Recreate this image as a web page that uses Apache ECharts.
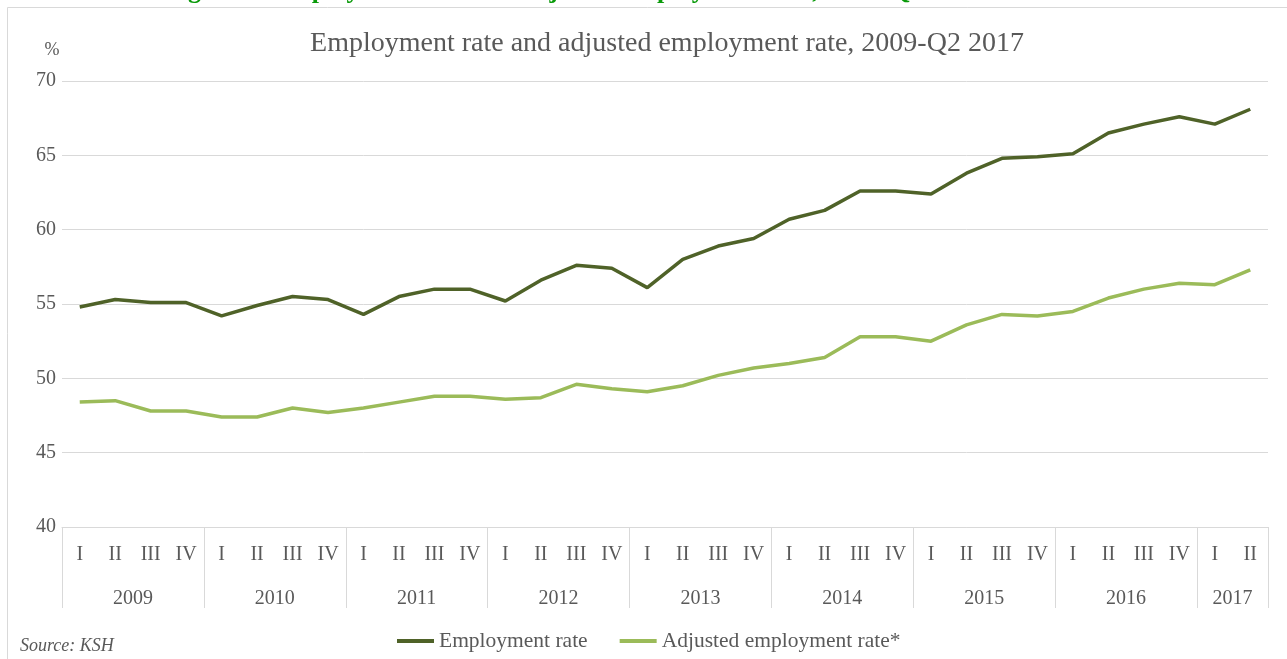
<!DOCTYPE html>
<html>
<head>
<meta charset="utf-8">
<title>Employment rate and adjusted employment rate, 2009-Q2 2017</title>
<script src="https://cdn.jsdelivr.net/npm/echarts@6/dist/echarts.min.js"></script>
<style>
  html, body { margin: 0; padding: 0; background: #ffffff; }
  #chart { width: 1287px; height: 659px; }
</style>
</head>
<body>
<div id="chart"></div>
<script>
// Years shown on the lower category row and how many quarters each one covers
const years = ['2009', '2010', '2011', '2012', '2013', '2014', '2015', '2016', '2017'];
const quartersPerYear = [4, 4, 4, 4, 4, 4, 4, 4, 2];
const quarterNames = ['I', 'II', 'III', 'IV'];

// Rates in percent, one value per quarter from 2009 Q1 to 2017 Q2
const employmentRate = [
  54.8, 55.3, 55.1, 55.1,
  54.2, 54.9, 55.5, 55.3,
  54.3, 55.5, 56.0, 56.0,
  55.2, 56.6, 57.6, 57.4,
  56.1, 58.0, 58.9, 59.4,
  60.7, 61.3, 62.6, 62.6,
  62.4, 63.8, 64.8, 64.9,
  65.1, 66.5, 67.1, 67.6,
  67.1, 68.1
];
const adjustedEmploymentRate = [
  48.4, 48.5, 47.8, 47.8,
  47.4, 47.4, 48.0, 47.7,
  48.0, 48.4, 48.8, 48.8,
  48.6, 48.7, 49.6, 49.3,
  49.1, 49.5, 50.2, 50.7,
  51.0, 51.4, 52.8, 52.8,
  52.5, 53.6, 54.3, 54.2,
  54.5, 55.4, 56.0, 56.4,
  56.3, 57.3
];

// Y axis range and tick step
const yMin = 40;
const yMax = 70;
const yStep = 5;

// Build quarter categories and the year row (label anchor + group boundaries)
const categories = [];
const quarterLabels = [];
const yearAnchorLabel = [];
const yearBoundary = [];
years.forEach(function (y, yi) {
  const n = quartersPerYear[yi];
  const start = categories.length;
  for (let q = 0; q < n; q++) {
    categories.push(y + ' ' + quarterNames[q]);
    quarterLabels.push(quarterNames[q]);
    yearAnchorLabel.push('');
    yearBoundary.push(q === 0);
  }
  // year label sits in the middle of its group
  yearAnchorLabel[start + n / 2 - 1] = y;
});

const W = 1287, H = 659;
const gridLeft = 62, gridRight = 19, gridTop = 81, gridBottom = 132;
const bandWidth = (W - gridLeft - gridRight) / categories.length;

const textColor = '#595959';
const lineGray = '#d9d9d9';
const serif = '"Liberation Serif", "DejaVu Serif", serif';

const chart = echarts.init(document.getElementById('chart'), null, { renderer: 'canvas', width: W, height: H });

chart.setOption({
  animation: false,
  backgroundColor: '#ffffff',
  textStyle: { fontFamily: serif, color: textColor },
  graphic: [
    {
      type: 'text',
      left: 645 - 480,
      top: -22,
      silent: true,
      style: {
        text: 'Figure 3: Employment rate and adjusted employment rate, 2009\u2013Q2 2017',
        font: 'bold 26px ' + serif,
        fill: '#0a9a0a'
      }
    },
    {
      type: 'rect',
      silent: true,
      shape: { x: 7.5, y: 7.5, width: 1400, height: 800 },
      style: { fill: 'none', stroke: lineGray, lineWidth: 1 }
    },
    {
      type: 'text',
      x: 667,
      y: 44,
      silent: true,
      style: {
        text: 'Employment rate and adjusted employment rate, 2009-Q2 2017',
        font: '28px ' + serif,
        fill: textColor,
        align: 'center',
        verticalAlign: 'middle'
      }
    },
    {
      type: 'text',
      x: 20,
      y: 646,
      silent: true,
      style: {
        text: 'Source: KSH',
        font: 'italic 18px ' + serif,
        fill: textColor,
        align: 'left',
        verticalAlign: 'middle'
      }
    }
  ],
  legend: {
    top: 625,
    left: 392,
    itemWidth: 37,
    itemHeight: 4,
    itemGap: 32,
    icon: 'rect',
    textStyle: { fontFamily: serif, fontSize: 21.5, color: textColor },
    data: ['Employment rate', 'Adjusted employment rate*']
  },
  grid: {
    left: gridLeft,
    right: gridRight,
    top: gridTop,
    bottom: gridBottom,
    containLabel: false
  },
  xAxis: [
    {
      type: 'category',
      data: categories,
      boundaryGap: true,
      position: 'bottom',
      axisLine: { show: true, lineStyle: { color: lineGray, width: 1 } },
      axisTick: { show: false },
      axisLabel: {
        interval: 0,
        margin: 18,
        fontFamily: serif,
        fontSize: 20,
        color: textColor,
        formatter: function (v, i) { return quarterLabels[i]; }
      },
      splitLine: { show: false }
    },
    {
      type: 'category',
      data: categories,
      boundaryGap: true,
      position: 'bottom',
      offset: 0,
      axisLine: { show: false },
      axisTick: {
        show: true,
        length: 81,
        interval: function (i) { return yearBoundary[i] === true; },
        lineStyle: { color: lineGray, width: 1 }
      },
      axisLabel: {
        interval: 0,
        margin: 62,
        fontFamily: serif,
        fontSize: 20,
        color: textColor,
        padding: [0, 0, 0, bandWidth],
        formatter: function (v, i) { return yearAnchorLabel[i]; }
      },
      splitLine: { show: false }
    }
  ],
  yAxis: {
    type: 'value',
    min: yMin,
    max: yMax,
    interval: yStep,
    name: '%',
    nameLocation: 'end',
    nameGap: 22,
    nameTextStyle: { fontFamily: serif, fontSize: 18, color: textColor, padding: [0, 20, 0, 0] },
    axisLine: { show: false },
    axisTick: { show: false },
    axisLabel: { margin: 6, fontFamily: serif, fontSize: 20, color: textColor },
    splitLine: { show: true, lineStyle: { color: lineGray, width: 1 } }
  },
  series: [
    {
      name: 'Employment rate',
      type: 'line',
      xAxisIndex: 0,
      data: employmentRate,
      symbol: 'none',
      color: '#4f6228',
      lineStyle: { color: '#4f6228', width: 3.5 }
    },
    {
      name: 'Adjusted employment rate*',
      type: 'line',
      xAxisIndex: 0,
      data: adjustedEmploymentRate,
      symbol: 'none',
      color: '#9bbb59',
      lineStyle: { color: '#9bbb59', width: 3.5 }
    }
  ]
});
</script>
</body>
</html>
